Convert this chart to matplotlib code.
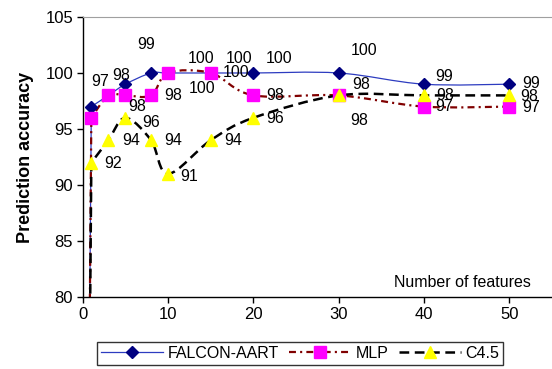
import numpy as np
import matplotlib
matplotlib.use('Agg')
import matplotlib.pyplot as plt
from matplotlib.path import Path
from matplotlib.patches import PathPatch
from matplotlib.lines import Line2D

plt.rcParams['font.family'] = ['Liberation Sans', 'DejaVu Sans']
plt.rcParams['lines.scale_dashes'] = False

# data (first point at 0 features = 0)
features = [0, 1, 3, 5, 8, 10, 15, 20, 30, 40, 50]
falcon = [0, 97, 98, 99, 100, 100, 100, 100, 100, 99, 99]
mlp = [0, 96, 98, 98, 98, 100, 100, 98, 98, 97, 97]
c45 = [0, 92, 94, 96, 94, 91, 94, 96, 98, 98, 98]
yticks = [80, 85, 90, 95, 100, 105]
xticks = [0, 10, 20, 30, 40, 50]

# label offsets (data units) from each point, None = label hidden
falcon_off = [None, (1.07, 2.2), (1.5, 1.8), (2.45, 3.5), (5.9, 1.3), (8.3, 1.3),
              (8.0, 1.3), None, (3.0, 2.05), (2.3, 0.7), (2.5, 0.1)]
mlp_off = [None, None, None, (1.35, -0.95), (2.56, 0.0), (4.0, -1.4), (3.0, 0.0),
           (2.6, -0.05), (2.4, -2.2), (2.3, 0.0), (2.5, -0.1)]
c45_off = [None, (2.5, -0.1), (2.7, 0.0), (3.0, -0.4), (2.6, 0.0), (2.5, -0.2),
           (2.6, 0.0), (2.6, -0.1), (2.6, 1.0), (2.5, 0.0), (2.3, -0.1)]


def smooth_path(xs, ys):
    # straight drop to the first point, then a smoothed curve like Excel
    pts = np.column_stack([xs[1:], ys[1:]]).astype(float)
    verts = [(xs[0], ys[0]), tuple(pts[0])]
    codes = [Path.MOVETO, Path.LINETO]
    n = len(pts)
    for i in range(n - 1):
        p0 = pts[i - 1] if i > 0 else pts[i]
        p1 = pts[i]
        p2 = pts[i + 1]
        p3 = pts[i + 2] if i + 2 < n else pts[i + 1]
        c1 = p1 + (p2 - p0) / 6
        c2 = p2 - (p3 - p1) / 6
        verts += [tuple(c1), tuple(c2), tuple(p2)]
        codes += [Path.CURVE4] * 3
    return Path(verts, codes)


fig = plt.figure(figsize=(5.52, 3.69), dpi=100)
ax = fig.add_axes([0.150, 0.195, 0.85, 0.759])

series = [
    ('FALCON-AART', falcon, falcon_off, dict(color='#2d3cc0', lw=0.9, ls='-'),
     dict(marker='D', mfc='#000080', mec='#000080', ms=6.5)),
    ('MLP', mlp, mlp_off, dict(color='#800000', lw=1.6, ls=(0, (5, 3, 1.5, 3))),
     dict(marker='s', mfc='#ff00ff', mec='#ff00ff', ms=8.5)),
    ('C4.5', c45, c45_off, dict(color='black', lw=1.8, ls=(0, (7, 4))),
     dict(marker='^', mfc='#ffff00', mec='#ffff00', ms=8.5)),
]

handles = []
for name, vals, offs, lstyle, mstyle in series:
    patch = PathPatch(smooth_path(features, vals), fill=False, ec=lstyle['color'],
                      lw=lstyle['lw'], ls=lstyle['ls'], zorder=2)
    ax.add_patch(patch)
    ax.plot(features, vals, ls='none', zorder=3, **mstyle)
    for x, y, off in zip(features, vals, offs):
        if off is None:
            continue
        ax.text(x + off[0], y + off[1], str(y), ha='center', va='center',
                fontsize=11.5, zorder=4)
    handles.append(Line2D([], [], color=lstyle['color'], lw=lstyle['lw'],
                          ls=lstyle['ls'], label=name, **mstyle))

ax.set_xlim(0, 55)
ax.set_ylim(80, 105)
ax.set_xticks(xticks)
ax.set_yticks(yticks)
ax.tick_params(direction='out', length=4, width=1, labelsize=12, pad=3)
ax.spines['right'].set_visible(False)
ax.spines['top'].set_color('#a0a0a0')
ax.spines['left'].set_linewidth(1)
ax.spines['bottom'].set_linewidth(1)
ax.set_ylabel('Prediction accuracy', fontsize=13, fontweight='bold', labelpad=8)
ax.text(44.5, 81.3, 'Number of features', ha='center', va='center', fontsize=11.5)

leg = fig.legend(handles=handles, loc='center', bbox_to_anchor=(0.544, 0.043), ncol=3,
                 fontsize=11.5, frameon=True, fancybox=False, handlelength=3.9,
                 handletextpad=0.3, columnspacing=0.6, borderpad=0.25, numpoints=1,
                 borderaxespad=0)
leg.get_frame().set_edgecolor('black')
leg.get_frame().set_linewidth(1)

fig.savefig('out.png', dpi=100)
